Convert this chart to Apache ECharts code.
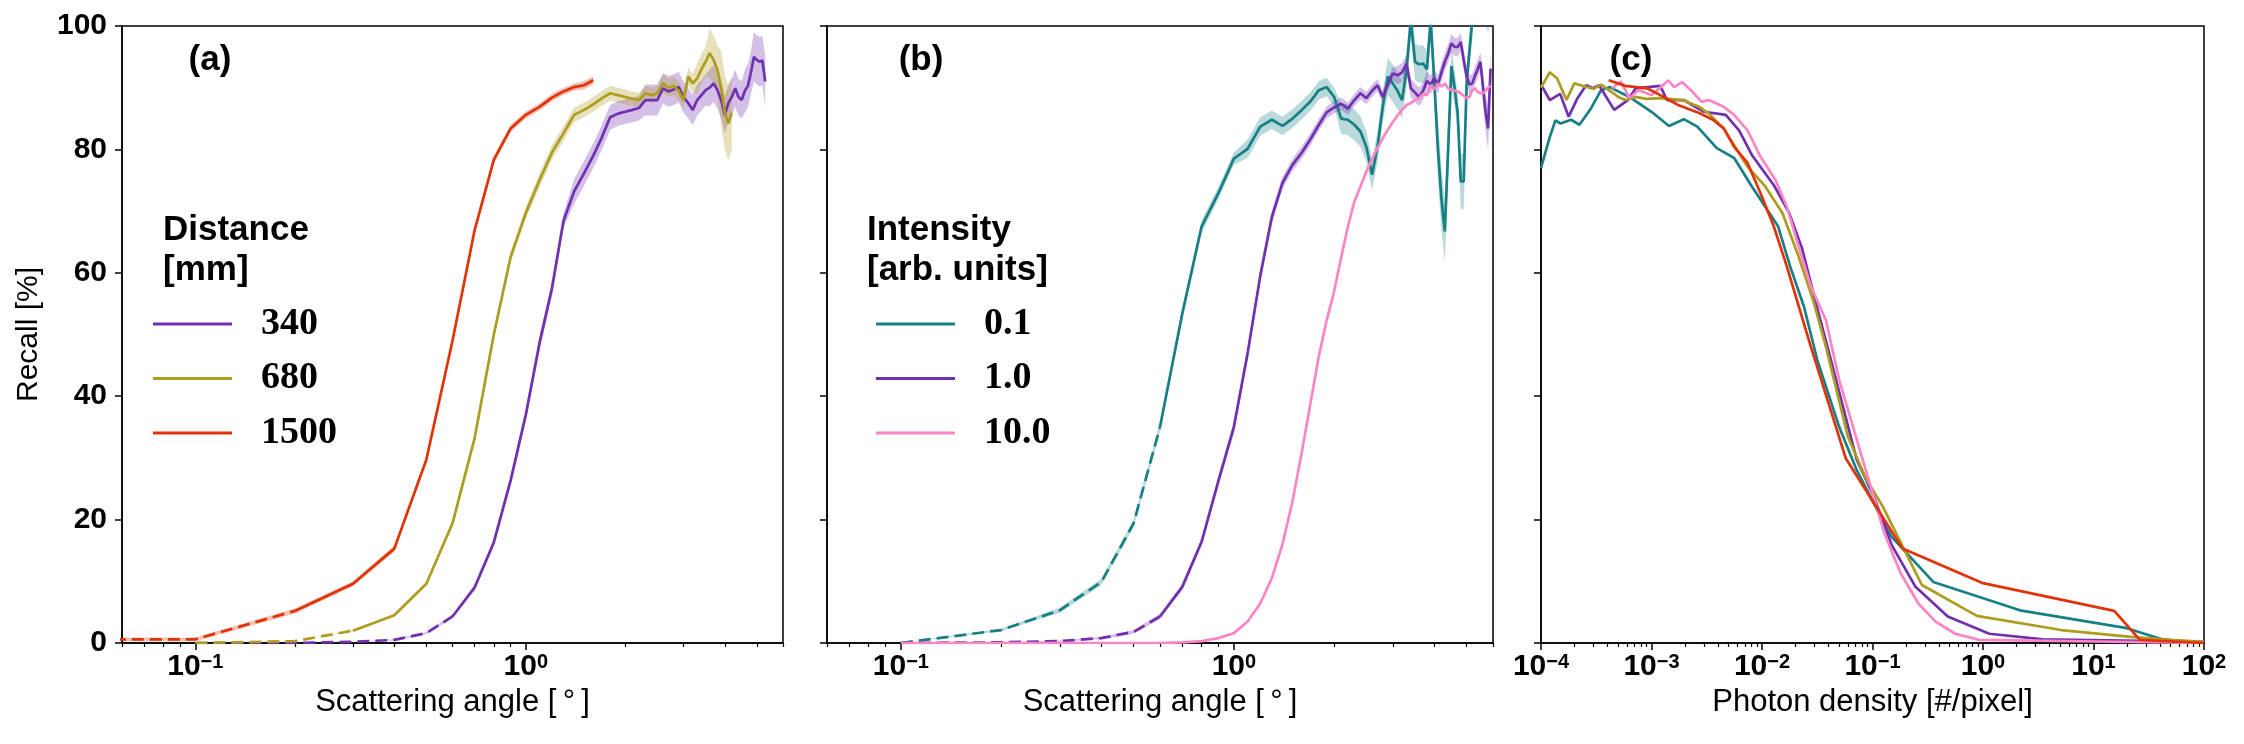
<!DOCTYPE html>
<html>
<head>
<meta charset="utf-8">
<script src="https://cdn.jsdelivr.net/npm/echarts@6.0.0/dist/echarts.min.js"></script>
<style>
  html, body { margin: 0; padding: 0; background: #fff; }
  #chart { width: 2244px; height: 744px; }
</style>
</head>
<body>
<div id="chart"></div>
<script>
// ---- data ----
// scattering angle bins [deg]
const angles = [0.1, 0.2, 0.3, 0.4, 0.5, 0.6, 0.7, 0.8, 0.9, 1.0,
  1.1, 1.2, 1.3, 1.4, 1.5, 1.6, 1.7, 1.8, 1.9, 2.0,
  2.1, 2.2, 2.3, 2.4, 2.5, 2.6, 2.7, 2.8, 2.9, 3.0,
  3.1, 3.2, 3.3, 3.4, 3.5, 3.6, 3.7, 3.8, 3.9, 4.0,
  4.1, 4.2, 4.3, 4.4, 4.5, 4.6, 4.7, 4.8, 4.9, 5.0,
  5.1, 5.2, 5.3, 5.4, 5.5, 5.6, 5.7, 5.8, 5.9]

// (a) distance
const angle1500 = [0.05, 0.1, 0.2, 0.3, 0.4, 0.5, 0.6, 0.7, 0.8, 0.9, 1.0, 1.1, 1.2, 1.3, 1.4, 1.5, 1.6]
const recall1500 = [0.6, 0.6, 5.2, 9.6, 15.3, 29.7, 49.0, 66.9, 78.3, 83.4, 85.6, 86.9, 88.4, 89.4, 90.1, 90.4, 91.2]
const err1500 = [0.3, 0.3, 0.4, 0.4, 0.5, 0.5, 0.6, 0.6, 0.6, 0.6, 0.6, 0.6, 0.6, 0.6, 0.6, 0.7, 0.7]

const angle680 = angles.slice(0, 42)
const recall680 = [0, 0.3, 2.0, 4.5, 9.6, 19.4, 33.2, 50.0, 62.6, 69.7,
  75.0, 79.5, 82.6, 85.6, 86.4, 87.3, 88.3, 89.1, 88.8, 88.5,
  88.2, 88.0, 89.1, 88.8, 89.1, 90.7, 90.0, 90.3, 89.5, 88.0,
  91.8, 90.7, 91.5, 93.0, 94.2, 95.6, 94.5, 92.9, 90.0, 86.0,
  84.2, 85.9]
const err680 = [0, 0, 0.1, 0.2, 0.3, 0.5, 0.6, 0.8, 0.8, 1.0,
  1.2, 1.2, 1.2, 1.2, 1.2, 1.2, 1.2, 1.2, 1.2, 1.2,
  1.2, 1.2, 1.2, 1.2, 1.2, 1.5, 1.5, 1.5, 1.5, 1.5,
  1.5, 1.5, 2.5, 2.5, 2.5, 4, 4, 4, 6, 6,
  6, 6]

const angle340 = angles.slice(0, 53)
const recall340 = [0, 0, 0.2, 0.5, 1.6, 4.3, 9.0, 16.3, 26.4, 37.0,
  48.6, 57.5, 68.4, 73.2, 76.1, 79.0, 82.0, 85.2, 85.8, 86.1,
  86.4, 86.7, 88.0, 88.0, 88.0, 89.9, 89.4, 89.7, 90.1, 88.5,
  87.5, 86.4, 88.0, 88.8, 89.6, 90.0, 90.7, 89.6, 88.0, 85.6,
  87.5, 88.5, 89.9, 88.5, 88.0, 89.5, 90.3, 92.5, 95.0, 94.5,
  94.2, 94.4, 91.0]
const err340 = [0, 0, 0, 0.1, 0.2, 0.3, 0.5, 0.6, 0.8, 1.0,
  1.2, 1.2, 1.2, 2, 2, 2, 2, 2, 2, 2,
  2, 2, 2.5, 2.5, 2.5, 2.5, 2.5, 2.5, 2.5, 2.5,
  2.5, 2.5, 2.5, 2.5, 2.5, 3, 3, 3, 3, 3,
  3, 3, 3, 3, 3, 3.5, 3.5, 3.5, 4, 4,
  4, 4, 4]

// (b) intensity
const recallI01 = [0, 2.1, 5.3, 9.9, 19.4, 35.0, 53.4, 67.5, 73.0, 78.5,
  80.1, 83.7, 84.8, 83.8, 85.0, 86.4, 87.8, 89.6, 90.1, 88.5,
  85.0, 84.8, 84.0, 82.9, 80.4, 75.9, 80.4, 87.0, 91.8, 90.7,
  89.5, 88.0, 92.9, 101, 94.2, 93.8, 93.9, 93.0, 101, 90.7,
  80.0, 72.0, 66.7, 80.0, 93.5, 90.0, 85.9, 74.8, 74.8, 90.7,
  96.0, 101, 108, 110, 106, 104, 103, 102, 104]
const errI01 = [0, 0.2, 0.4, 0.5, 0.6, 0.8, 1, 1, 1, 1,
  1.5, 1.5, 1.5, 1.5, 1.5, 1.5, 1.5, 1.5, 1.5, 1.5,
  2.5, 2.5, 2.5, 2.5, 2.5, 2.5, 2.5, 2.5, 3, 3,
  3, 3, 3, 3, 3, 3, 3, 3, 3, 3,
  5, 5, 5, 5, 3, 3, 3, 4.5, 4.5, 3,
  3, 3, 3, 3, 3, 3, 3, 3, 3]

const recallI1 = [0, 0.1, 0.3, 0.8, 1.8, 4.3, 9.1, 16.4, 26.4, 35.0,
  47.0, 59.5, 69.0, 74.6, 77.5, 79.5, 81.7, 84.0, 86.0, 86.8,
  87.4, 86.6, 88.0, 89.1, 88.3, 89.5, 90.4, 88.5, 90.5, 92.3,
  92.0, 92.5, 93.9, 89.9, 89.2, 88.5, 89.5, 91.1, 90.5, 91.6,
  90.5, 92.5, 94.2, 95.5, 97.2, 96.6, 96.6, 97.4, 94.5, 91.8,
  90.5, 90.7, 92.0, 93.0, 94.2, 90.0, 86.0, 83.4, 93.1]
const errI1 = [0, 0, 0.1, 0.2, 0.3, 0.4, 0.5, 0.6, 0.8, 1.0,
  1, 1, 1, 1, 1, 1, 1, 1, 1, 1,
  1, 1, 1, 1, 1, 1, 1, 1, 1, 1,
  1.5, 1.5, 1.5, 1.5, 1.5, 1.5, 1.5, 1.5, 1.5, 1.5,
  1.5, 1.5, 1.5, 1.5, 1.5, 1.5, 1.5, 1.5, 1.5, 1.5,
  1.5, 1.5, 1.5, 1.5, 1.5, 2.5, 3, 3.5, 3]

const recallI10 = [0, 0, 0, 0, 0, 0, 0.1, 0.3, 0.8, 1.6,
  3.5, 6.4, 10.5, 16.0, 23.0, 31.0, 39.0, 46.5, 52.3, 57.0,
  62.5, 67.5, 71.5, 74.0, 76.4, 78.5, 80.2, 81.8, 83.2, 84.4,
  85.5, 86.4, 87.2, 87.5, 88.0, 88.3, 89.0, 88.8, 90.4, 89.7,
  90.7, 90.2, 90.7, 89.9, 89.6, 89.5, 89.4, 89.1, 88.7, 88.3,
  88.5, 89.6, 89.9, 89.3, 89.1, 89.1, 89.5, 90.0, 90.3]

// (c) photon density [#/pixel]
const densI01 = [1.0e-4, 1.2e-4, 1.35e-4, 1.5e-4, 1.87e-4, 2.23e-4, 2.8e-4, 3.5e-4, 4.2e-4, 6.3e-4,
  1.0e-3, 1.44e-3, 1.96e-3, 2.6e-3, 3.9e-3, 5.6e-3, 8.1e-3, 0.0107, 0.014, 0.018,
  0.024, 0.0316, 0.05, 0.072, 0.103, 0.149, 0.355, 2.16, 20, 41.7, 100]
const recallDensI01 = [77, 82, 84.7, 84.2, 84.8, 84, 86.5, 89.6, 90.1, 88.5,
  86.1, 83.8, 84.9, 83.7, 80.2, 78.6, 74, 70.7, 67.5, 61,
  54.5, 45.9, 35, 28, 22.6, 17.2, 9.9, 5.3, 2.4, 0.6, 0]

const densI1 = [1.0e-4, 1.2e-4, 1.49e-4, 1.78e-4, 2.14e-4, 2.56e-4, 2.94e-4, 3.35e-4, 4.6e-4, 6.1e-4,
  7.2e-4, 1.2e-3, 1.38e-3, 1.96e-3, 2.98e-3, 4.7e-3, 6.2e-3, 8.1e-3, 0.0128, 0.0176,
  0.023, 0.0302, 0.0398, 0.072, 0.103, 0.149, 0.245, 0.48, 1.14, 3.5, 100]
const recallDensI1 = [90.5, 88, 89, 85.3, 88.3, 90.4, 89.9, 90.4, 86.4, 88,
  89.9, 90.3, 88, 88, 86.1, 85.6, 83.1, 79.1, 74.2, 69.7,
  64, 55.6, 47.5, 29.7, 23.7, 15.9, 9.1, 4.3, 1.5, 0.6, 0.2]

const densD680 = [1.0e-4, 1.2e-4, 1.4e-4, 1.7e-4, 2.0e-4, 2.5e-4, 3.0e-4, 3.5e-4, 4.2e-4, 5e-4,
  5.8e-4, 7.2e-4, 9e-4, 1.2e-3, 1.9e-3, 2.7e-3, 3.3e-3, 4.5e-3, 7.4e-3, 0.0107,
  0.0153, 0.021, 0.029, 0.0379, 0.06, 0.087, 0.124, 0.28, 0.88, 5.1, 21.7, 50, 100]
const recallDensD680 = [90, 92.5, 91.5, 88, 90.7, 90.2, 89.8, 90.5, 89.5, 88.5,
  88, 88.5, 88.2, 88.3, 88, 86.9, 85.8, 83.4, 77.2, 74,
  69.7, 63.1, 55.6, 48, 33.4, 26.7, 22.1, 9.4, 4.4, 2.1, 1.0, 0.5, 0.2]

const densI10 = [4.4e-4, 5.3e-4, 6.3e-4, 7.6e-4, 1.0e-3, 1.25e-3, 1.42e-3, 1.6e-3, 1.9e-3, 2.3e-3,
  2.85e-3, 3.3e-3, 4.5e-3, 5.6e-3, 7.4e-3, 9.7e-3, 0.0133, 0.0168, 0.021, 0.0277,
  0.0379, 0.05, 0.087, 0.128, 0.18, 0.26, 0.37, 0.56, 0.92, 100]
const recallDensI10 = [89.9, 91, 88.3, 89.6, 88.8, 90.3, 91.2, 90.1, 90.9, 89.5,
  87.7, 88, 86.9, 85.6, 83.1, 78.8, 75, 70.7, 64.8, 57.8,
  52.3, 42.6, 28, 17.8, 11.3, 6.4, 3.5, 1.5, 0.5, 0]

const densD1500 = [4.1e-4, 5.8e-4, 9.1e-4, 1.2e-3, 1.74e-3, 2.7e-3, 3.6e-3, 4.5e-3, 5.6e-3, 7.4e-3,
  9.7e-3, 0.0128, 0.0168, 0.022, 0.0277, 0.0574, 0.187, 1.0, 15.4, 26.3, 100]
const recallDensD1500 = [91.2, 90.3, 89.9, 88.8, 87.2, 85.9, 84.8, 83.4, 80.4, 77.8,
  72.9, 67.5, 61, 54, 48, 29.9, 15.3, 9.7, 5.2, 0.5, 0]

// axis ticks
const angleMajor = [0.1, 1]
const angleMinor = [0.06, 0.07, 0.08, 0.09, 0.2, 0.3, 0.4, 0.5, 0.6, 0.7, 0.8, 0.9, 2, 3, 4, 5, 6]
const densMajor = [1e-4, 1e-3, 1e-2, 1e-1, 1, 10, 100]
const densMinor = []
densMajor.slice(0, -1).forEach(d => { for (let k = 2; k <= 9; k++) densMinor.push(+(d * k).toPrecision(3)) })

// ---- style ----
const colPurple = '#7030b0'
const colOlive = '#ad9c1e'
const colRed = '#e23308'
const colTeal = '#168086'
const colPink = '#ff84c6'
const sans = '"Liberation Sans", Arial, Helvetica, sans-serif'
const serif = '"Liberation Serif", "Times New Roman", serif'
const axisLineStyle = { color: '#000', width: 1.5 }

function powLabel(v) {
  const e = Math.round(Math.log10(v))
  return '{b|10}{s|' + (e < 0 ? '\u2212' + (-e) : e) + '}'
}
const powRich = {
  b: { fontSize: 30, fontWeight: 'bold', fontFamily: sans, color: '#000' },
  s: { fontSize: 20, fontWeight: 'bold', fontFamily: sans, color: '#000', verticalAlign: 'top' }
}

const grids = [
  { left: 122, top: 26, width: 661, height: 617 },
  { left: 827, top: 26, width: 666, height: 617 },
  { left: 1541, top: 26, width: 663, height: 617 }
].map(g => Object.assign(g, { show: true, borderColor: '#000', borderWidth: 1.5, backgroundColor: 'transparent' }))

function majorX(gridIndex, min, max, ticks, name) {
  return {
    type: 'log', logBase: 10, gridIndex, min, max, position: 'bottom',
    name, nameLocation: 'middle', nameGap: 38,
    nameTextStyle: { fontFamily: sans, fontSize: 31, color: '#000' },
    axisLine: { show: true, onZero: false, lineStyle: axisLineStyle },
    axisTick: { show: true, customValues: ticks, length: 7, lineStyle: axisLineStyle },
    axisLabel: { show: true, customValues: ticks, formatter: powLabel, rich: powRich, margin: 9 },
    splitLine: { show: false }
  }
}
function minorX(gridIndex, min, max, ticks) {
  return {
    type: 'log', logBase: 10, gridIndex, min, max, position: 'bottom',
    axisLine: { show: false, onZero: false },
    axisTick: { show: true, customValues: ticks, length: 4, lineStyle: { color: '#000', width: 1.2 } },
    axisLabel: { show: false },
    splitLine: { show: false }
  }
}
function yAxisFor(gridIndex, withLabels) {
  return {
    type: 'value', gridIndex, min: 0, max: 100, interval: 20,
    name: withLabels ? 'Recall [%]' : '', nameLocation: 'middle', nameGap: 78,
    nameTextStyle: { fontFamily: sans, fontSize: 30, color: '#000' },
    axisLine: { show: true, onZero: false, lineStyle: axisLineStyle },
    axisTick: { show: true, length: 7, lineStyle: axisLineStyle },
    axisLabel: { show: withLabels, fontFamily: sans, fontSize: 30, fontWeight: 'bold', color: '#000', margin: 15 },
    splitLine: { show: false }
  }
}

function line(name, axis, xs, ys, color, dashed) {
  return {
    name, type: 'line', xAxisIndex: axis, yAxisIndex: axis,
    data: xs.map((x, i) => [x, ys[i]]),
    symbol: 'none', showSymbol: false, z: 3, clip: true,
    lineStyle: { color, width: 2.7, type: dashed ? [12, 6] : 'solid' },
    itemStyle: { color }
  }
}
// dashed below xSplit, solid from it on
function splitLine(name, axis, xs, ys, color, xSplit) {
  const lo = [], hi = []
  xs.forEach((x, i) => {
    if (x <= xSplit) lo.push(i)
    if (x >= xSplit) hi.push(i)
  })
  return [
    line(name + ' low', axis, lo.map(i => xs[i]), lo.map(i => ys[i]), color, true),
    line(name, axis, hi.map(i => xs[i]), hi.map(i => ys[i]), color, false)
  ]
}
function band(axis, xs, ys, err, color) {
  return {
    type: 'custom', xAxisIndex: axis, yAxisIndex: axis, clip: true, silent: true, z: 2,
    data: [[xs[xs.length - 1], ys[ys.length - 1]]],
    renderItem: function (params, api) {
      const pts = []
      for (let i = 0; i < xs.length; i++) pts.push(api.coord([xs[i], ys[i] + err[i]]))
      for (let i = xs.length - 1; i >= 0; i--) pts.push(api.coord([xs[i], ys[i] - err[i]]))
      return { type: 'polygon', shape: { points: pts }, style: { fill: color, opacity: 0.3 } }
    }
  }
}

const angleI = angles
const series = [
  band(0, angle340, recall340, err340, colPurple),
  band(0, angle680, recall680, err680, colOlive),
  band(0, angle1500, recall1500, err1500, colRed),
  ...splitLine('340', 0, angle340, recall340, colPurple, 0.6),
  ...splitLine('680', 0, angle680, recall680, colOlive, 0.3),
  ...splitLine('1500', 0, angle1500, recall1500, colRed, 0.2),

  band(1, angleI, recallI01, errI01, colTeal),
  band(1, angleI, recallI1, errI1, colPurple),
  ...splitLine('0.1', 1, angleI, recallI01, colTeal, 0.6),
  ...splitLine('1.0', 1, angleI, recallI1, colPurple, 0.6),
  line('10.0', 1, angleI, recallI10, colPink, false),

  line('c 0.1', 2, densI01, recallDensI01, colTeal, false),
  line('c 1.0', 2, densI1, recallDensI1, colPurple, false),
  line('c 680', 2, densD680, recallDensD680, colOlive, false),
  line('c 10.0', 2, densI10, recallDensI10, colPink, false),
  line('c 1500', 2, densD1500, recallDensD1500, colRed, false)
]

const legendBase = {
  orient: 'vertical', icon: 'rect', itemWidth: 79, itemHeight: 3, itemGap: 14.5,
  padding: 0, selectedMode: false, top: 304,
  textStyle: { fontFamily: serif, fontWeight: 'bold', fontSize: 38, color: '#000', lineHeight: 40, padding: [0, 0, 0, 24] }
}

const titleFont = 'bold 35px ' + sans
const option = {
  animation: false,
  backgroundColor: '#fff',
  grid: grids,
  xAxis: [
    majorX(0, 0.06, 6, angleMajor, 'Scattering angle [\u2009\u00b0\u2009]'),
    majorX(1, 0.06, 6, angleMajor, 'Scattering angle [\u2009\u00b0\u2009]'),
    majorX(2, 1e-4, 100, densMajor, 'Photon density [#/pixel]'),
    minorX(0, 0.06, 6, angleMinor),
    minorX(1, 0.06, 6, angleMinor),
    minorX(2, 1e-4, 100, densMinor)
  ],
  yAxis: [yAxisFor(0, true), yAxisFor(1, false), yAxisFor(2, false)],
  legend: [
    Object.assign({}, legendBase, { data: ['340', '680', '1500'], left: 153 }),
    Object.assign({}, legendBase, { data: ['0.1', '1.0', '10.0'], left: 876 })
  ],
  graphic: [
    { type: 'text', x: 210, y: 60, style: { text: '(a)', font: titleFont, fill: '#000', align: 'center', verticalAlign: 'middle' } },
    { type: 'text', x: 921, y: 60, style: { text: '(b)', font: titleFont, fill: '#000', align: 'center', verticalAlign: 'middle' } },
    { type: 'text', x: 1631, y: 60, style: { text: '(c)', font: titleFont, fill: '#000', align: 'center', verticalAlign: 'middle' } },
    { type: 'text', x: 163, y: 210, style: { text: 'Distance\n[mm]', font: titleFont, lineHeight: 40, fill: '#000', align: 'left', verticalAlign: 'top' } },
    { type: 'text', x: 867, y: 210, style: { text: 'Intensity\n[arb. units]', font: titleFont, lineHeight: 40, fill: '#000', align: 'left', verticalAlign: 'top' } }
  ],
  series
}

const myChart = echarts.init(document.getElementById('chart'))
myChart.setOption(option)
window.addEventListener('resize', function () {
  myChart.resize()
})
</script>
</body>
</html>
